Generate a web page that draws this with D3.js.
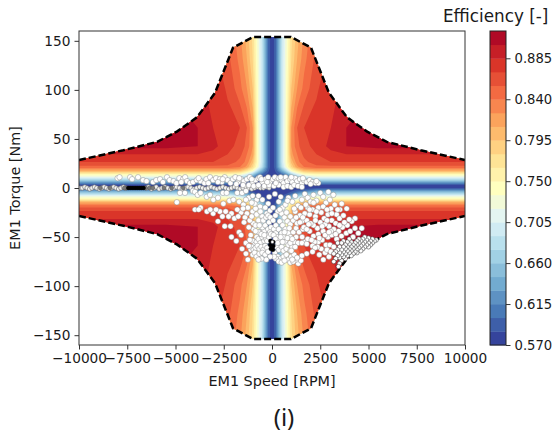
<!DOCTYPE html>
<html><head><meta charset="utf-8">
<script src="https://cdnjs.cloudflare.com/ajax/libs/d3/7.8.5/d3.min.js"></script>
<style>html,body{margin:0;padding:0;background:#fff}svg{display:block}text{font-family:"DejaVu Sans",sans-serif;fill:#1a1a1a}</style>
</head><body><svg id="c" width="555" height="438"></svg>
<script>
const xTicks=[-10000,-7500,-5000,-2500,0,2500,5000,7500,10000];
const yTicks=[-150,-100,-50,0,50,100,150];
const cbTicks=[0.57,0.615,0.66,0.705,0.75,0.795,0.84,0.885];
const levelStart=0.57, levelStep=0.015, levelCount=23;
const cmapAnchors=["#313695","#4575b4","#74add1","#abd9e9","#e0f3f8","#ffffbf","#fee090","#fdae61","#f46d43","#d73027","#a50026"];
const envSpeeds=[0,980,2020,2950,3890,4930,5950,7700,10000];
const envTorques=[154,154,143,97,72,57.5,47,38.5,28.5];
const gridSpeeds=[0,200,500,780,1000,1300,1660,2300,3050,3850,5500,10000];
const gridTorques=[0,2,4,6,8,10,12.5,16,20,25,33,41,60,100,130,165];
const fieldTorqueOffset=1.5;
const effRow0=[.57,.57,.57,.57,.57,.57,.57,.57,.57,.57,.57,.57];
const effRow2=[.57,.57,.57,.57,.575,.575,.58,.59,.59,.59,.59,.59];
const effRow4=[.57,.57,.57,.575,.58,.59,.60,.625,.625,.625,.625,.625];
const effRow6=[.57,.57,.575,.58,.59,.61,.63,.66,.66,.66,.66,.66];
const effRow8=[.57,.575,.58,.59,.61,.64,.66,.69,.69,.69,.69,.69];
const effRow10=[.57,.575,.585,.605,.63,.67,.70,.72,.72,.72,.72,.72];
const effRow12=[.57,.58,.60,.63,.67,.71,.74,.75,.75,.75,.75,.75];
const effRow16=[.57,.59,.64,.69,.74,.77,.80,.81,.81,.81,.81,.81];
const effRow20=[.57,.60,.68,.74,.78,.82,.84,.85,.85,.85,.85,.85];
const effRow25=[.57,.60,.69,.75,.80,.835,.85,.865,.87,.87,.87,.87];
const effRow33=[.57,.60,.69,.75,.82,.84,.86,.87,.88,.885,.885,.885];
const effRow41=[.57,.60,.69,.75,.825,.85,.865,.875,.89,.90,.905,.905];
const effRow60=[.57,.60,.69,.75,.825,.855,.87,.875,.885,.90,.905,.905];
const effRow100=[.57,.60,.69,.745,.795,.825,.845,.868,.88,.89,.90,.90];
const effRow130=[.57,.60,.69,.74,.78,.81,.835,.86,.875,.885,.89,.89];
const effRow165=[.57,.60,.685,.735,.775,.80,.825,.855,.87,.88,.885,.885];
const effRows=[effRow0,effRow2,effRow4,effRow6,effRow8,effRow10,effRow12,effRow16,effRow20,effRow25,effRow33,effRow41,effRow60,effRow100,effRow130,effRow165];

const idleLine=[[-9950,0],[-9830,0],[-9700,1],[-9580,0],[-9450,-1],[-9330,0],[-9200,1],[-9080,0],[-8950,-1],[-8830,0],[-8700,1],[-8580,0],[-8450,-1],[-8330,0],[-8200,1],[-8080,0],[-7950,-1],[-7830,0],[-7700,1],[-7580,0],[-6500,0],[-6400,1],[-6250,-1],[-6100,0],[-6000,1],[-5850,-1],[-5700,0],[-5550,1],[-5400,0],[-5250,-1],[-5100,0],[-4950,1],[-4800,0],[-4650,-1],[-4500,0],[-4350,1],[-4200,0],[-4050,-1],[-3900,0],[-3750,1],[-3600,0],[-3450,-1],[-3300,0],[-3150,1],[-3000,0],[-2850,-1],[-2700,0],[-2550,1],[-2400,0],[-2250,-1],[-2100,0],[-1950,1],[-1800,0],[-1650,-1],[-1500,0],[-1350,1],[-1200,0],[-1050,-1],[-900,0],[-750,1],[-600,0],[-450,0],[-300,1],[-150,0]];
const idleDark=[[-7450,0],[-7350,0],[-7250,0],[-7150,0],[-7050,0],[-6950,0],[-6850,0],[-6750,0],[-6650,0]];
const idleGrey=[[-7550,0],[-6550,0],[-6350,0],[-6180,0],[-7650,0],[-8400,0],[-8900,0],[-5600,0],[-5200,0],[-4600,0]];
const hubDark=[[-80,-54],[60,-55],[-90,-58],[70,-59],[-60,-62],[50,-63]];
const hubTop=[[20,-55]];
const upperBand=[[-8000,10],[-7900,11],[-7350,11],[-7250,9],[-6940,11],[-6680,8],[-6500,7],[-6165,6],[-6000,8],[-5800,9],[-5650,6],[-5440,11],[-5300,8],[-5100,7],[-4950,5],[-4800,10],[-4610,9],[-4500,11],[-4400,7],[-4250,5],[-4090,6],[-3900,8],[-3700,7],[-3500,5],[-3400,9],[-3210,11],[-3050,8],[-2900,10],[-2700,9],[-2600,6],[-2450,11],[-2300,8],[-2150,5],[-2020,9],[-1900,11],[-1750,6],[-1600,9],[-1450,7],[-1300,9],[-1150,11],[-1000,6],[-850,8],[-700,10],[-620,11],[-500,6],[-350,9],[-200,11],[-100,6],[50,9],[150,11],[250,7],[350,10],[500,8],[600,5],[700,11],[800,7],[950,9],[1050,6],[1200,10],[1300,7],[1450,9],[1550,5],[1650,8],[1800,6],[1950,8],[2100,6],[2250,5],[2400,5],[-1200,3],[-950,2],[-700,3],[-400,2],[-150,3],[100,2],[350,3],[600,1],[800,2],[1000,1],[1150,3],[1350,2],[1550,1],[-3300,5],[-2800,6],[-1850,4],[-1500,3],[-4700,6],[-3800,10],[-2550,9],[-1700,10],[-1050,9],[-550,9],[-250,6],[200,5],[450,11],[1000,11],[1600,10],[2000,4],[2300,7]];
const lowerLeft=[[-4770,-5],[-4510,-5],[-4100,-3],[-3990,-4],[-3850,-7],[-3700,-5],[-3380,-9],[-3210,-7],[-3040,-12],[-2800,-10],[-2540,-5],[-2350,-5],[-2520,-16],[-2200,-13],[-2000,-12],[-1800,-5],[-1550,-5],[-1350,-3],[-1700,-14],[-1480,-17],[-1200,-10],[-1000,-8],[-790,-12],[-620,-19],[-4930,-14.5],[-3990,-22],[-3700,-20],[-3800,-22],[-3370,-24],[-3050,-26],[-2700,-24],[-2570,-29],[-2800,-34],[-2100,-26],[-1950,-31],[-2450,-39],[-2150,-39],[-1700,-45],[-2100,-50],[-1850,-54],[-1600,-48],[-1350,-56],[-1550,-62],[-1350,-67],[-1100,-63],[-1250,-73],[-1300,-26],[-970,-36],[-620,-45],[-270,-48],[-270,-26],[-1600,-25],[-1400,-30],[-1150,-33],[-1250,-20],[-1000,-24],[-800,-27],[-700,-33],[-950,-42],[-1100,-48],[-800,-50],[-3200,-22],[-2900,-22],[-2400,-24],[-2250,-29],[-1800,-22],[-1750,-29],[-1500,-21],[-1450,-35],[-1200,-40],[-1050,-29],[-850,-21],[-600,-24],[-500,-29],[-850,-38]];
const hubCluster=[[-1000,-54],[-900,-58],[-800,-55],[-700,-52],[-600,-56],[-500,-50],[-400,-54],[-300,-52],[-1050,-60],[-950,-63],[-850,-61],[-750,-59],[-650,-62],[-550,-60],[-450,-63],[-350,-59],[-250,-61],[-1000,-68],[-900,-66],[-800,-70],[-650,-67],[-500,-66],[-350,-68],[-200,-65],[-400,-44],[-500,-40],[-350,-38],[-200,-42],[-100,-45],[-450,-33],[-300,-30],[-150,-35],[-50,-40],[100,-42],[200,-46],[300,-50],[400,-54],[200,-38],[350,-42],[500,-46],[600,-50],[700,-55],[150,-66],[250,-60],[350,-63],[500,-60],[600,-64],[750,-62],[850,-58],[950,-64],[1050,-60],[1150,-55],[1250,-50],[1350,-56],[300,-70],[450,-72],[600,-70],[750,-68],[850,-73],[1000,-70],[1150,-68],[1360,-77],[1500,-74],[1250,-73],[400,-34],[550,-38],[700,-42],[850,-46],[950,-50],[1100,-45],[1250,-41],[1400,-45],[300,-24],[500,-26],[650,-30],[800,-34],[950,-37],[1100,-33],[1300,-36],[-200,-16],[-350,-20],[-100,-23],[50,-20],[-500,-12],[-150,-9],[150,-6],[350,-14],[550,-20],[700,-17],[850,-10],[1050,-14],[1200,-24],[1350,-18],[1450,-28],[1550,-12],[1700,-6],[1850,-10],[-700,-45],[-550,-47],[-850,-44],[-400,-48],[-250,-54],[-150,-50],[-650,-38],[-200,-28],[-80,-30],[60,-33],[180,-28],[-50,-47],[80,-48],[180,-52],[300,-56],[450,-50],[550,-55],[650,-45],[800,-51],[950,-56],[200,-72],[350,-75],[500,-76],[650,-74],[950,-76],[1100,-75],[100,-70],[-100,-70],[-300,-73],[-550,-72],[-700,-73],[-1150,-53],[-1200,-59],[900,-41],[1050,-52],[1200,-60],[400,-22],[750,-25],[950,-29],[1150,-21],[1250,-30],[800,-13],[450,-9],[1200,-8],[-900,-16],[-1050,-15],[-1350,-12],[-700,-8],[1500,-20],[1600,-42]];
const rightMid=[[1550,-34],[1700,-26],[1850,-20],[2000,-14],[2150,-7],[2300,-13],[2500,-5],[2650,-9],[2920,-4],[3180,-7],[2800,-15],[3000,-12],[1650,-40],[1800,-33],[1950,-27],[2100,-22],[2250,-29],[2400,-20],[2550,-25],[2700,-31],[2900,-27],[3050,-21],[3250,-17],[3610,-16],[3870,-21],[3520,-22],[3350,-27],[3100,-33],[3300,-36],[3500,-31],[3700,-28],[4300,-31],[4130,-34],[4650,-41],[4300,-41],[4470,-46],[3900,-38],[3650,-40],[3450,-44],[3200,-42],[2950,-39],[2750,-37],[2500,-35],[2350,-41],[2150,-38],[1950,-44],[2150,-49],[2400,-47],[2650,-44],[2900,-50],[3100,-48],[3350,-52],[3600,-49],[3850,-46],[4050,-44],[4200,-50],[1560,-50],[1700,-55],[1850,-52],[2400,-55],[2600,-53],[2800,-58],[2550,-62],[2750,-66],[3000,-58],[3200,-60],[2660,-73],[2950,-70],[1450,-35],[1800,-42],[2000,-36],[2250,-33],[2600,-39],[2850,-33],[3050,-44],[3300,-47],[3500,-38],[3750,-35],[4000,-32],[2300,-24],[2650,-19],[2850,-22],[3100,-26],[3400,-22],[2450,-51],[2200,-55],[2050,-53],[2350,-60],[2450,-68],[2850,-63],[3050,-65],[2750,-48],[2950,-45],[1900,-37],[1600,-30],[1750,-17],[1950,-22],[2150,-15]];
const ringLoop=[[1550,-56],[1800,-57],[2100,-59],[2230,-61],[2100,-65],[1800,-67],[1550,-69],[1300,-71],[1050,-73],[1000,-64]];
const rightEnvelope=[[5400,-53],[5300,-54],[5200,-52],[5200,-56],[5100,-54],[5100,-58],[5000,-51],[5000,-56],[5000,-60],[4900,-53],[4900,-58],[4800,-50],[4800,-55],[4800,-60],[4700,-52],[4700,-57],[4700,-62],[4600,-54],[4600,-59],[4600,-64],[4500,-52],[4500,-56],[4500,-61],[4400,-54],[4400,-58],[4400,-63],[4400,-66],[4300,-56],[4300,-60],[4300,-65],[4200,-58],[4200,-62],[4200,-67],[4100,-55],[4100,-60],[4100,-64],[4100,-69],[4000,-52],[4000,-57],[4000,-62],[4000,-66],[3900,-55],[3900,-60],[3900,-64],[3900,-69],[3800,-58],[3800,-62],[3800,-67],[3800,-72],[3700,-54],[3700,-60],[3700,-65],[3700,-70],[3600,-56],[3600,-63],[3600,-68],[3600,-74],[3500,-60],[3500,-66],[3500,-71],[3500,-77],[3400,-56],[3400,-63],[3400,-69],[3440,-80],[3300,-65],[3300,-72],[3200,-67],[3200,-75]];

const W=555,H=438, M={l:79,r:465,t:31,b:345};
const svg=d3.select("#c");
const x=d3.scaleLinear().domain([-10000,10000]).range([M.l,M.r]);
const y=d3.scaleLinear().domain([-160,160]).range([M.b,M.t]);

const cmap=d3.scaleLinear().domain(cmapAnchors.map((_,i)=>i/(cmapAnchors.length-1))).range(cmapAnchors);
const thresholds=d3.range(levelCount).map(i=>levelStart+i*levelStep-(i===0?0.001:0));
const bandColor=i=>cmap((i+0.5)/levelCount);

const fullS=[...gridSpeeds.slice(1).reverse().map(v=>-v),...gridSpeeds];
const fullT=[...gridTorques.slice(1).reverse().map(v=>-v),...gridTorques];
const nS=fullS.length,nT=fullT.length,values=[];
fullT.forEach(t=>{const row=effRows[gridTorques.indexOf(Math.abs(t))];
  fullS.forEach(s=>values.push(row[gridSpeeds.indexOf(Math.abs(s))]));});
const ix=d3.scaleLinear().domain(fullS.map((_,i)=>i+0.5)).range(fullS.map(s=>x(s)));
const iy=d3.scaleLinear().domain(fullT.map((_,i)=>i+0.5)).range(fullT.map(t=>y(t+fieldTorqueOffset)));
const path=d3.geoPath(d3.geoTransform({point(px,py){this.stream.point(ix(px),iy(py));}}));
const contours=d3.contours().size([nS,nT]).thresholds(thresholds)(values);

const envLeft=envSpeeds.slice(1).reverse().map((s,i)=>[-s,envTorques[envTorques.length-1-i]]);
const envRight=envSpeeds.map((s,i)=>[s,envTorques[i]]);
const envUpper=[...envLeft,...envRight];
const envLower=envUpper.map(d=>[d[0],-d[1]]);
const line=d3.line().x(d=>x(d[0])).y(d=>y(d[1]));
const defs=svg.append("defs");
defs.append("clipPath").attr("id","env").append("path")
  .attr("d",line([...envUpper,...envLower.slice().reverse()])+"Z");
defs.append("clipPath").attr("id","ax").append("rect")
  .attr("x",M.l).attr("y",M.t).attr("width",M.r-M.l).attr("height",M.b-M.t);

const plot=svg.append("g").attr("clip-path","url(#ax)");
plot.append("g").attr("clip-path","url(#env)").selectAll("path").data(contours).join("path")
  .attr("d",path).attr("fill",(d,i)=>bandColor(i));
plot.selectAll("path.env").data([envUpper,envLower]).join("path").attr("class","env")
  .attr("d",line).attr("fill","none").attr("stroke","#000").attr("stroke-width",2.5)
  .attr("stroke-dasharray","7,3");

function dots(data,fill,stroke,r,sw){
  plot.append("g").selectAll("circle").data(data).join("circle")
   .attr("cx",d=>x(d[0])).attr("cy",d=>y(d[1])).attr("r",r)
   .attr("fill",fill).attr("stroke",stroke).attr("stroke-width",sw);
}
dots(idleLine,"#f2f2f2","#666",2.2,0.6);
dots(idleGrey,"#777","#555",2,0.5);
dots(idleDark,"#000","#000",1.9,0.4);
dots(upperBand,"#fff","#777",2.7,0.4);
dots(lowerLeft,"#fff","#777",2.7,0.4);
dots(hubCluster,"#fff","#777",2.7,0.4);
dots(rightMid,"#fff","#777",2.7,0.4);
dots(ringLoop,"#fff","#777",2.7,0.4);
dots(rightEnvelope,"#fff","#333",2.2,0.5);
dots(hubDark,"#000","#000",2,0.4);
dots(hubTop,"#fff","#333",1.6,0.4);

svg.append("rect").attr("x",M.l).attr("y",M.t).attr("width",M.r-M.l).attr("height",M.b-M.t)
  .attr("fill","none").attr("stroke","#333").attr("stroke-width",1);
const gx=svg.append("g").attr("transform",`translate(0,${M.b})`)
  .call(d3.axisBottom(x).tickValues(xTicks).tickSize(4.5).tickPadding(4).tickFormat(d3.format("d")));
const gy=svg.append("g").attr("transform",`translate(${M.l},0)`)
  .call(d3.axisLeft(y).tickValues(yTicks).tickSize(4.5).tickPadding(4).tickFormat(d3.format("d")));
[gx,gy].forEach(g=>{g.select(".domain").remove();g.selectAll("line").attr("stroke","#333");
  g.selectAll("text").style("font-family",'"DejaVu Sans"').style("font-size","13.7px").attr("fill","#1a1a1a");});

svg.append("text").attr("x",272).attr("y",386).attr("text-anchor","middle").style("font-size","14.4px").text("EM1 Speed [RPM]");
svg.append("text").attr("transform","translate(20,188) rotate(-90)").attr("text-anchor","middle").style("font-size","14.4px").text("EM1 Torque [Nm]");
svg.append("text").attr("x",284).attr("y",426).attr("text-anchor","middle").style("font-family",'"Noto Sans"').style("font-size","24px").text("(i)");

const cbX=490,cbW=16;
const cbY=d3.scaleLinear().domain([levelStart,levelStart+levelCount*levelStep]).range([M.b,M.t]);
svg.append("g").selectAll("rect").data(d3.range(levelCount)).join("rect")
  .attr("x",cbX).attr("width",cbW)
  .attr("y",i=>cbY(levelStart+(i+1)*levelStep)).attr("height",i=>cbY(levelStart+i*levelStep)-cbY(levelStart+(i+1)*levelStep)+0.4)
  .attr("fill",bandColor);
svg.append("rect").attr("x",cbX).attr("y",M.t).attr("width",cbW).attr("height",M.b-M.t).attr("fill","none").attr("stroke","#222").attr("stroke-width",1);
const gc=svg.append("g").attr("transform",`translate(${cbX+cbW},0)`)
  .call(d3.axisRight(cbY).tickValues(cbTicks).tickSize(4.5).tickPadding(4).tickFormat(d3.format(".3f")));
gc.select(".domain").remove();gc.selectAll("line").attr("stroke","#333");
gc.selectAll("text").style("font-family",'"DejaVu Sans"').style("font-size","13.2px").attr("fill","#1a1a1a");
svg.append("text").attr("x",443).attr("y",22).style("font-size","16.8px").text("Efficiency [-]");
</script></body></html>
